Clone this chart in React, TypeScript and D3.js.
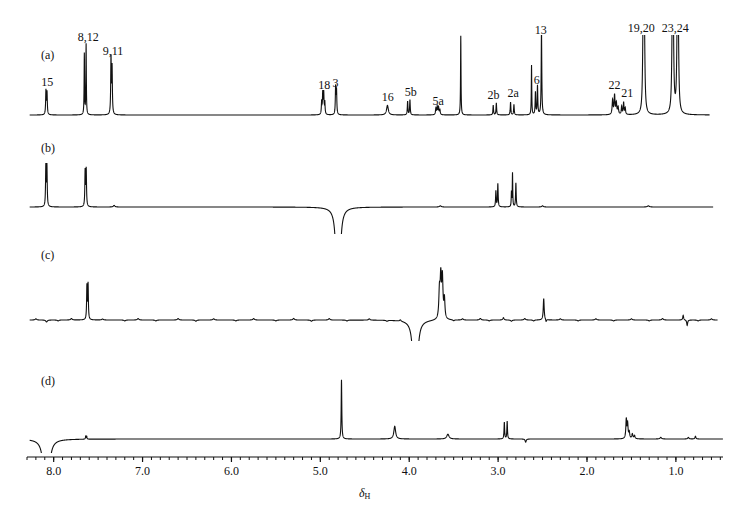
import React from "react";
import * as d3 from "d3";

// [shift (ppm), intensity (% of panel scale), half width (ppm)]
type Peak = [number, number, number];
type Label = [string, number, number]; // text, shift, height (%)

const SHIFT_DOMAIN: [number, number] = [8.3, 0.47];
const MAJOR_TICKS = [8, 7, 6, 5, 4, 3, 2, 1];
const MINOR_TICKS = d3.range(5, 84).map((i) => i / 10);

const panelNames = ["(a)", "(b)", "(c)", "(d)"];
const spans: [number, number][] = [
  [8.27, 0.62],
  [8.27, 0.58],
  [8.27, 0.53],
  [8.27, 0.47],
];

const peaksA: Peak[] = [
  [8.087, 30, 0.004], [8.075, 28, 0.004],
  [7.655, 76, 0.003], [7.635, 88, 0.003],
  [7.355, 70, 0.004], [7.343, 58, 0.004],
  [4.985, 16, 0.004], [4.973, 26, 0.004], [4.962, 26, 0.004], [4.95, 15, 0.004],
  [4.828, 34, 0.004], [4.818, 30, 0.004],
  [4.245, 12, 0.012],
  [4.018, 17, 0.004], [3.992, 19, 0.004],
  [3.7, 8, 0.005], [3.685, 10, 0.005], [3.67, 9, 0.005], [3.655, 6, 0.005],
  [3.42, 99, 0.003],
  [3.055, 12, 0.004], [3.02, 15, 0.004],
  [2.86, 16, 0.004], [2.822, 13, 0.004],
  [2.624, 62, 0.003],
  [2.58, 28, 0.004], [2.557, 36, 0.004],
  [2.512, 105, 0.004],
  [1.712, 18, 0.006], [1.69, 24, 0.006], [1.67, 14, 0.006], [1.65, 9, 0.006],
  [1.61, 10, 0.005], [1.588, 15, 0.005], [1.57, 8, 0.005],
  [1.368, 110, 0.007], [1.355, 110, 0.007],
  [1.04, 105, 0.007], [1.03, 105, 0.007],
  [0.984, 105, 0.007], [0.974, 105, 0.007],
];

const peaksB: Peak[] = [
  [8.088, 50, 0.004], [8.076, 50, 0.004],
  [7.646, 44, 0.004], [7.634, 46, 0.004],
  [7.32, 2, 0.01],
  [4.8, -420, 0.011],
  [3.65, 1.5, 0.012],
  [3.025, 20, 0.004], [3.003, 29, 0.004],
  [2.85, 18, 0.003], [2.838, 42, 0.003], [2.8, 30, 0.004],
  [2.5, 1.5, 0.01],
  [1.31, 1.5, 0.012],
];

const peaksC: Peak[] = [
  [8.08, -2.5, 0.01],
  [7.626, 42, 0.004], [7.613, 44, 0.004],
  [3.932, -400, 0.011],
  [3.66, 34, 0.008], [3.645, 50, 0.008], [3.627, 50, 0.008], [3.604, 24, 0.007],
  [2.487, 27, 0.006], [2.46, -3, 0.005],
  [0.918, 6, 0.006], [0.873, -7, 0.006],
  // baseline ripple
  [8.2, 1.5, 0.01], [7.95, -1.2, 0.01], [7.8, 1.8, 0.01], [7.45, 1.2, 0.01],
  [7.2, -1.2, 0.01], [7.05, 1.8, 0.01], [6.85, -1.2, 0.01], [6.6, 1.8, 0.01],
  [6.4, -1.5, 0.01], [6.2, 1.6, 0.01], [5.95, -1.2, 0.01], [5.75, 1.8, 0.01],
  [5.5, -1.2, 0.01], [5.3, 2, 0.01], [5.1, -1.5, 0.01], [4.9, 1.8, 0.01],
  [4.7, -1.2, 0.01], [4.45, 1.6, 0.01], [4.25, -1.2, 0.01], [4.1, 1.8, 0.01],
  [3.5, -1.2, 0.01], [3.4, 1.6, 0.01], [3.2, 2, 0.01], [3.1, -1.2, 0.01],
  [2.94, 3, 0.008], [2.85, -1.5, 0.01], [2.7, 1.8, 0.01], [2.6, -1.2, 0.01],
  [2.3, 1.5, 0.01], [2.1, -1.2, 0.01], [1.9, 1.6, 0.01], [1.7, -1.2, 0.01],
  [1.5, 1.5, 0.01], [1.3, -1.2, 0.01], [1.15, 1.8, 0.01], [0.75, -1.2, 0.01],
  [0.6, 1.5, 0.01],
];

const peaksD: Peak[] = [
  [8.082, -400, 0.012],
  [7.64, 3.5, 0.004], [7.628, 3.5, 0.004],
  [4.762, 74, 0.004],
  [4.163, 16, 0.012],
  [3.565, 6, 0.015],
  [2.93, 21, 0.004], [2.898, 22, 0.004],
  [2.69, -4, 0.007],
  [1.558, 24, 0.006], [1.543, 18, 0.006], [1.525, 8, 0.006], [1.49, 6, 0.007], [1.465, 4, 0.007],
  [1.17, 2, 0.01], [0.86, 2, 0.008], [0.78, 3.5, 0.006],
];

const labelsA: Label[] = [
  ["15", 8.073, 36],
  ["8,12", 7.612, 92.5],
  ["9,11", 7.333, 75],
  ["18", 4.955, 33],
  ["3", 4.83, 35],
  ["16", 4.241, 17.5],
  ["5b", 3.982, 24],
  ["5a", 3.675, 12.5],
  ["2b", 3.052, 20],
  ["2a", 2.831, 22.5],
  ["6", 2.564, 39],
  ["13", 2.519, 101],
  ["22", 1.69, 32.5],
  ["21", 1.546, 22.5],
  ["19,20", 1.391, 104],
  ["23,24", 1.006, 104],
];

const allPeaks = [peaksA, peaksB, peaksC, peaksD];
const allLabels: Label[][] = [labelsA, [], [], []];

// layout per panel: baseline y, clip window, panel-name offset
const layout = [
  { base: 115, clipTop: 35, clipBottom: 135, nameDy: 56 },
  { base: 207, clipTop: 120, clipBottom: 234, nameDy: 55 },
  { base: 320, clipTop: 230, clipBottom: 341, nameDy: 61 },
  { base: 439, clipTop: 360, clipBottom: 453, nameDy: 54 },
];

const SERIF = '"Liberation Serif", "Times New Roman", serif';

function spectrum(peaks: Peak[], span: [number, number]): [number, number][] {
  const pts: [number, number][] = [];
  for (let s = span[0]; s >= span[1]; s -= 0.001) {
    let v = 0;
    for (const [c, h, w] of peaks) {
      const d = s - c;
      v += (h * w * w) / (d * d + w * w);
    }
    pts.push([s, v]);
  }
  return pts;
}

export default function App() {
  const width = 752;
  const height = 509;
  const axisY = 457;

  const x = d3.scaleLinear().domain(SHIFT_DOMAIN).range([27, 723]);

  return (
    <svg
      width={width}
      height={height}
      style={{ position: "absolute", left: 0, top: 0, background: "#fff" }}
    >
      <defs>
        {layout.map((l, i) => (
          <clipPath id={`clip-${i}`} key={i}>
            <rect x={0} y={l.clipTop} width={width} height={l.clipBottom - l.clipTop} />
          </clipPath>
        ))}
      </defs>

      {layout.map((l, i) => {
        const y = d3.scaleLinear().domain([0, 100]).range([l.base, l.base - 80]);
        const line = d3
          .line<[number, number]>()
          .x((d) => x(d[0]))
          .y((d) => y(d[1]));
        const pts = spectrum(allPeaks[i], spans[i]);
        return (
          <g key={i}>
            <path
              d={line(pts) || ""}
              fill="none"
              stroke="#111"
              strokeWidth={1.1}
              clipPath={`url(#clip-${i})`}
            />
            <text x={41} y={l.base - l.nameDy} fontFamily={SERIF} fontSize={12} fill="#111">
              {panelNames[i]}
            </text>
            {allLabels[i].map(([t, s, h]) => (
              <text
                key={t}
                x={x(s)}
                y={y(h)}
                textAnchor="middle"
                fontFamily={SERIF}
                fontSize={12}
                fill="#111"
              >
                {t}
              </text>
            ))}
          </g>
        );
      })}

      {/* shift axis */}
      <g>
        <line x1={27} x2={723} y1={axisY} y2={axisY} stroke="#111" strokeWidth={1.2} />
        {MINOR_TICKS.map((t) => (
          <line
            key={t}
            x1={x(t)}
            x2={x(t)}
            y1={axisY}
            y2={axisY + 3}
            stroke="#111"
            strokeWidth={1}
          />
        ))}
        {MAJOR_TICKS.map((t) => (
          <g key={t}>
            <line x1={x(t)} x2={x(t)} y1={axisY} y2={axisY + 5} stroke="#111" strokeWidth={1.2} />
            <text
              x={x(t)}
              y={axisY + 18}
              textAnchor="middle"
              fontFamily={SERIF}
              fontSize={12}
              fill="#111"
            >
              {t.toFixed(1)}
            </text>
          </g>
        ))}
        <text x={359} y={497} fontFamily={SERIF} fontSize={12} fontStyle="italic" fill="#111">
          δ
          <tspan fontStyle="normal" fontSize={8} dy={2}>
            H
          </tspan>
        </text>
      </g>
    </svg>
  );
}
